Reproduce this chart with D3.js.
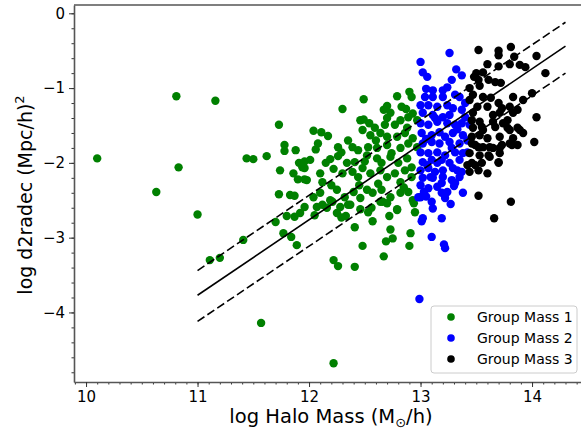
<!DOCTYPE html>
<html>
<head>
<meta charset="utf-8">
<style>
  body { margin: 0; background: white; }
  svg text { font-family: "DejaVu Sans", sans-serif; fill: black; }
  .axis path { stroke: #555; stroke-width: 1.6; }
  .axis line { stroke: #333; stroke-width: 1; }
  .axis text { font-size: 15px; }
</style>
</head>
<body>
<svg id="chart" width="581" height="433"></svg>
<script src="https://cdn.jsdelivr.net/npm/d3@7"></script>
<script>
// points: [log halo mass, log d2radec]
var group1 = [
  [10.10,-1.94],[10.63,-2.39],[10.81,-1.11],[10.83,-2.06],[11.16,-1.17],[11.00,-2.69],
  [11.11,-3.30],[11.20,-3.27],[11.41,-3.03],[11.57,-4.14],[12.22,-4.68],[11.44,-1.94],
  [11.50,-1.95],[11.62,-1.91],[11.73,-1.49],[11.78,-1.76],[11.78,-1.84],[11.88,-1.83],
  [11.74,-2.10],[11.86,-2.14],[11.91,-2.00],[11.96,-2.07],[11.73,-2.42],[11.87,-2.44],
  [11.90,-2.22],[11.96,-2.22],[11.80,-2.71],[11.92,-2.67],[11.70,-2.79],[11.77,-2.94],
  [11.84,-2.99],[11.89,-3.10],[11.96,-2.59],[12.05,-2.70],[12.07,-2.59],[12.12,-2.56],
  [12.21,-2.52],[12.25,-2.67],[12.29,-2.73],[12.33,-2.71],[12.35,-2.56],[12.22,-3.30],
  [12.26,-3.38],[12.41,-3.39],[12.48,-3.11],[12.41,-2.86],[12.57,-2.78],[12.67,-3.25],
  [12.69,-3.05],[12.75,-3.01],[12.73,-2.89],[12.72,-2.71],[12.79,-2.62],[12.90,-3.11],
  [12.91,-2.94],[12.95,-2.66],[12.94,-2.54],[12.46,-2.62],[12.53,-2.66],[12.64,-2.52],
  [12.70,-2.54],[12.30,-1.28],[12.49,-1.15],[12.79,-1.11],[12.90,-1.05],[12.92,-1.12],
  [12.70,-1.24],[12.67,-1.29],[12.73,-1.33],[12.83,-1.25],[12.87,-1.28],[12.93,-1.34],
  [12.04,-1.57],[12.11,-1.59],[12.17,-1.64],[12.46,-1.43],[12.49,-1.42],[12.54,-1.47],
  [12.59,-1.53],[12.70,-1.40],[12.68,-1.49],[12.77,-1.49],[12.82,-1.43],[12.88,-1.53],
  [12.89,-1.39],[12.97,-1.43],[12.48,-1.56],[12.55,-1.63],[12.64,-1.60],[12.70,-1.65],
  [12.79,-1.65],[12.86,-1.60],[12.93,-1.67],[12.97,-1.79],[12.08,-1.74],[12.06,-1.82],
  [12.26,-1.79],[12.29,-1.86],[12.39,-1.79],[12.44,-1.83],[12.53,-1.79],[12.61,-1.80],
  [12.70,-1.76],[12.74,-1.87],[12.82,-1.80],[12.89,-1.74],[11.96,-1.98],[12.01,-1.96],
  [12.19,-1.95],[12.26,-1.91],[12.34,-2.00],[12.41,-1.99],[12.52,-1.90],[12.61,-1.94],
  [12.65,-2.00],[12.73,-1.92],[12.80,-2.00],[12.88,-1.94],[12.92,-2.06],[11.94,-2.06],
  [11.98,-2.23],[12.10,-2.14],[12.12,-2.26],[12.22,-2.08],[12.30,-2.14],[12.39,-2.12],
  [12.44,-2.19],[12.48,-2.07],[12.55,-2.14],[12.64,-2.10],[12.70,-2.19],[12.77,-2.14],
  [12.86,-2.10],[12.82,-2.26],[12.92,-2.19],[11.83,-2.43],[12.04,-2.46],[12.10,-2.40],
  [12.19,-2.50],[12.25,-2.36],[12.32,-2.46],[12.40,-2.39],[12.46,-2.47],[12.52,-2.36],
  [12.57,-2.40],[12.65,-2.36],[12.73,-2.46],[12.82,-2.40],[12.89,-2.39],[12.93,-2.50],
  [12.16,-2.60],[12.28,-2.59],[12.37,-2.56],[12.56,-2.60],[12.66,-2.52],[12.79,-2.63],
  [11.87,-2.72],[12.35,-1.70],[12.60,-1.70],[12.45,-2.30],[12.62,-2.28],[12.85,-2.33],
  [12.15,-2.00],[12.50,-1.98],[12.20,-2.30]
];
var group2 = [
  [13.26,-0.53],[13.00,-0.65],[13.02,-0.79],[13.06,-0.85],[13.32,-0.75],[13.37,-0.83],
  [13.28,-0.89],[13.24,-0.99],[13.05,-1.01],[13.11,-1.03],[13.20,-1.03],[13.04,-1.12],
  [13.11,-1.12],[13.20,-1.12],[13.31,-1.09],[13.35,-1.12],[13.40,-1.20],[13.00,-1.23],
  [13.07,-1.23],[13.15,-1.25],[13.24,-1.23],[13.29,-1.27],[13.37,-1.29],[13.02,-1.33],
  [13.11,-1.36],[13.20,-1.39],[13.26,-1.36],[13.40,-1.39],[13.00,-1.47],[13.07,-1.49],
  [13.15,-1.45],[13.24,-1.47],[13.31,-1.49],[13.37,-1.47],[13.01,-1.60],[13.10,-1.63],
  [13.17,-1.59],[13.22,-1.65],[13.29,-1.60],[13.38,-1.63],[13.02,-1.74],[13.10,-1.72],
  [13.17,-1.74],[13.26,-1.72],[13.35,-1.74],[13.42,-1.70],[13.00,-1.86],[13.07,-1.87],
  [13.15,-1.86],[13.22,-1.90],[13.31,-1.86],[13.38,-1.87],[13.02,-1.99],[13.10,-1.96],
  [13.19,-1.96],[13.26,-2.00],[13.35,-1.96],[13.00,-2.10],[13.07,-2.07],[13.13,-2.12],
  [13.20,-2.10],[13.29,-2.07],[13.37,-2.12],[13.02,-2.20],[13.11,-2.20],[13.20,-2.19],
  [13.28,-2.23],[13.35,-2.19],[13.00,-2.30],[13.19,-2.27],[13.31,-2.27],[13.15,-2.32],
  [13.07,-2.34],[13.00,-2.46],[13.03,-2.39],[13.19,-2.40],[13.24,-2.39],[13.38,-2.40],
  [13.30,-2.31],[13.11,-2.61],[13.02,-2.74],[13.19,-2.74],[13.06,-2.03],[13.15,-2.00],
  [13.09,-2.19],[13.33,-2.10],[12.98,-2.46],[13.10,-2.52],[13.01,-2.78],[13.10,-2.99],
  [13.22,-3.14],[13.21,-3.09],[12.99,-3.82],[13.22,-2.47],[13.42,-1.86],[13.44,-1.49],
  [13.05,-1.68],[13.28,-1.80],[13.13,-1.40],[13.33,-1.55],[13.05,-2.45],[13.27,-2.55]
];
var group3 = [
  [13.52,-0.49],[13.70,-0.50],[13.70,-0.56],[13.81,-0.45],[13.84,-0.58],[14.04,-0.57],
  [13.60,-0.68],[13.70,-0.71],[13.80,-0.68],[13.89,-0.69],[13.94,-0.72],[13.50,-0.80],
  [13.56,-0.79],[13.48,-0.85],[13.52,-0.89],[13.61,-0.89],[13.67,-0.92],[13.72,-0.93],
  [14.12,-0.80],[13.44,-1.00],[13.53,-0.97],[13.47,-1.09],[13.56,-1.12],[13.63,-1.13],
  [13.83,-1.12],[13.92,-1.16],[14.00,-1.07],[13.44,-1.16],[13.51,-1.25],[13.60,-1.25],
  [13.70,-1.20],[13.73,-1.27],[13.80,-1.25],[13.47,-1.33],[13.65,-1.36],[13.71,-1.33],
  [13.83,-1.33],[13.87,-1.29],[13.46,-1.43],[13.53,-1.45],[13.65,-1.45],[13.74,-1.47],
  [13.78,-1.43],[14.04,-1.39],[13.47,-1.53],[13.56,-1.56],[13.67,-1.52],[13.78,-1.53],
  [13.89,-1.56],[13.46,-1.65],[13.53,-1.63],[13.60,-1.67],[13.71,-1.65],[13.83,-1.67],
  [13.92,-1.60],[13.46,-1.74],[13.52,-1.79],[13.62,-1.79],[13.71,-1.80],[13.80,-1.74],
  [13.87,-1.76],[14.02,-1.72],[13.44,-1.87],[13.53,-1.90],[13.62,-1.92],[13.71,-1.87],
  [13.46,-2.00],[13.55,-2.00],[13.61,-1.90],[13.70,-2.00],[13.44,-2.12],[13.52,-2.10],
  [13.60,-2.14],[13.42,-2.03],[13.49,-2.03],[13.52,-2.44],[13.81,-2.52],[13.66,-2.74],
  [13.55,-1.52],[13.80,-1.56],[13.87,-1.53],[13.70,-1.99],[13.65,-1.80],[13.49,-1.76],
  [13.56,-1.79],[13.73,-1.76],[13.82,-1.76]
];

// fit line and scatter band
var fitX = [11.0, 14.3];
var fitMid = [-3.77, -0.44];
var fitUpper = [-3.44, -0.12];
var fitLower = [-4.12, -0.80];

var xTicks = [10, 11, 12, 13, 14];
var yTicks = [0, -1, -2, -3, -4];
var groupNames = ["Group Mass 1", "Group Mass 2", "Group Mass 3"];
var groupColors = ["#008000", "#0000ff", "#000000"];

var svg = d3.select("#chart");
var plotLeft = 74, plotRight = 583, plotTop = 5, plotBottom = 382;

var x = d3.scaleLinear().domain([9.892, 14.457]).range([plotLeft, plotRight]);
var y = d3.scaleLinear().domain([-4.93, 0.111]).range([plotBottom, plotTop]);

function fmt(d) { return d < 0 ? "\u2212" + Math.abs(d) : "" + d; }

// minor ticks
svg.append("g")
  .attr("class", "axis")
  .attr("transform", "translate(0," + plotBottom + ")")
  .call(d3.axisBottom(x).tickValues(d3.range(99, 145).map(function(v) { return v / 10; }))
    .tickSize(2.5).tickSizeOuter(0).tickFormat(""))
  .select(".domain").remove();

svg.append("g")
  .attr("class", "axis")
  .attr("transform", "translate(" + plotLeft + ",0)")
  .call(d3.axisLeft(y).tickValues(d3.range(0, -25, -1).map(function(v) { return v / 5; }))
    .tickSize(2.5).tickSizeOuter(0).tickFormat(""))
  .select(".domain").remove();

// major ticks and spines
svg.append("g")
  .attr("class", "axis")
  .attr("transform", "translate(0," + plotBottom + ")")
  .call(d3.axisBottom(x).tickValues(xTicks).tickSize(5).tickSizeOuter(0).tickPadding(4).tickFormat(fmt));

svg.append("g")
  .attr("class", "axis")
  .attr("transform", "translate(" + plotLeft + ",0)")
  .call(d3.axisLeft(y).tickValues(yTicks).tickSize(5).tickSizeOuter(0).tickPadding(4).tickFormat(fmt));

svg.append("line")
  .attr("x1", plotLeft).attr("x2", plotRight)
  .attr("y1", plotTop).attr("y2", plotTop)
  .attr("stroke", "#555").attr("stroke-width", 1.6);

// points
[group1, group2, group3].forEach(function(g, i) {
  svg.append("g").selectAll("circle")
    .data(g)
    .enter().append("circle")
    .attr("cx", function(d) { return x(d[0]); })
    .attr("cy", function(d) { return y(d[1]); })
    .attr("r", 4.2)
    .attr("fill", groupColors[i]);
});

// fit lines
var line = d3.line()
  .x(function(d) { return x(d[0]); })
  .y(function(d) { return y(d[1]); });

[[fitMid, null], [fitUpper, "8.3,3.6"], [fitLower, "8.3,3.6"]].forEach(function(f) {
  svg.append("path")
    .datum(fitX.map(function(v, i) { return [v, f[0][i]]; }))
    .attr("d", line)
    .attr("fill", "none")
    .attr("stroke", "black")
    .attr("stroke-width", 1.6)
    .attr("stroke-dasharray", f[1]);
});

// legend
var legend = svg.append("g").attr("transform", "translate(431,306)");
legend.append("rect")
  .attr("width", 146).attr("height", 67)
  .attr("rx", 3)
  .attr("fill", "white").attr("fill-opacity", 0.8)
  .attr("stroke", "#ccc");
groupNames.forEach(function(name, i) {
  legend.append("circle")
    .attr("cx", 20).attr("cy", 11 + i * 21)
    .attr("r", 3.8).attr("fill", groupColors[i]);
  legend.append("text")
    .attr("x", 46).attr("y", 16 + i * 21)
    .style("font-size", "14px")
    .text(name);
});

// axis labels
var xl = svg.append("text")
  .attr("x", 331).attr("y", 423)
  .attr("text-anchor", "middle")
  .style("font-size", "19.5px");
xl.append("tspan").text("log Halo Mass (M");
xl.append("tspan").attr("dy", 4).style("font-size", "13px").text("\u2299");
xl.append("tspan").attr("dy", -4).text("/h)");

var yl = svg.append("text")
  .attr("transform", "translate(32,195) rotate(-90)")
  .attr("text-anchor", "middle")
  .style("font-size", "19px");
yl.append("tspan").text("log d2radec (Mpc/h)");
yl.append("tspan").attr("dy", -8).style("font-size", "13px").text("2");
</script>
</body>
</html>
